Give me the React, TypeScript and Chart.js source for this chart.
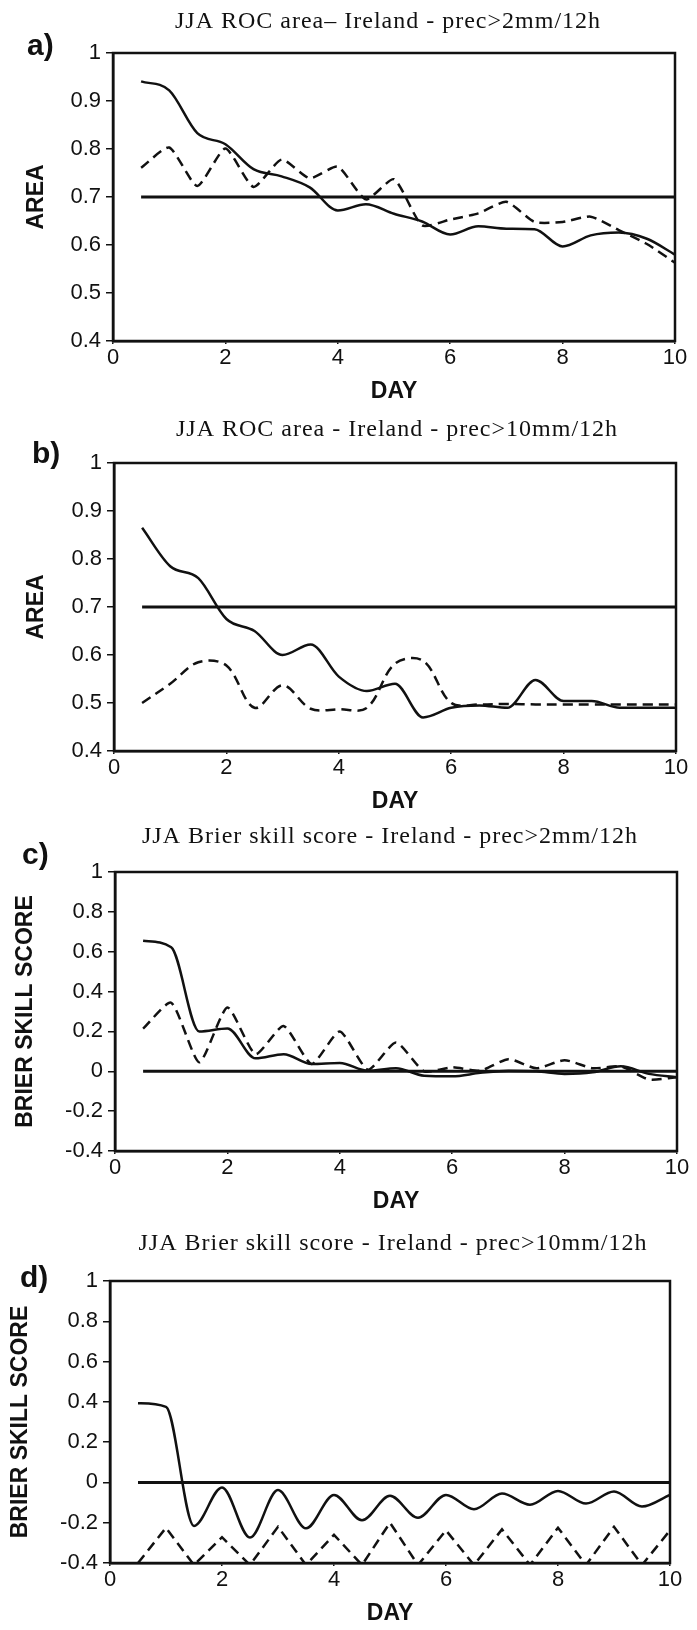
import React, { useEffect, useRef } from 'react';
import { Chart, registerables } from 'chart.js';

Chart.register(...registerables);

// ---------- data ----------
const days = [0.5, 1, 1.5, 2, 2.5, 3, 3.5, 4, 4.5, 5, 5.5, 6, 6.5, 7, 7.5, 8, 8.5, 9, 9.5, 10];
const xTicks = [0, 2, 4, 6, 8, 10];
const rocTicks = [0.4, 0.5, 0.6, 0.7, 0.8, 0.9, 1];
const bssTicks = [-0.4, -0.2, 0, 0.2, 0.4, 0.6, 0.8, 1];

const rocThreshold = 0.7;
const bssThreshold = 0;

const rocSolidA = [0.941, 0.922, 0.833, 0.81, 0.758, 0.743, 0.72, 0.672, 0.685, 0.665, 0.649, 0.622, 0.639, 0.634, 0.633, 0.597, 0.62, 0.626, 0.613, 0.58];
const rocDashedA = [0.761, 0.803, 0.723, 0.801, 0.721, 0.778, 0.739, 0.763, 0.695, 0.737, 0.641, 0.653, 0.666, 0.69, 0.648, 0.648, 0.659, 0.631, 0.602, 0.563];

const rocSolidB = [0.865, 0.785, 0.76, 0.675, 0.65, 0.6, 0.622, 0.555, 0.525, 0.54, 0.47, 0.49, 0.495, 0.49, 0.548, 0.504, 0.504, 0.49, 0.49, 0.49];
const rocDashedB = [0.5, 0.54, 0.585, 0.578, 0.49, 0.537, 0.488, 0.487, 0.49, 0.582, 0.588, 0.5, 0.497, 0.498, 0.497, 0.497, 0.497, 0.497, 0.497, 0.497];

const bssSolidC = [0.655, 0.622, 0.2, 0.215, 0.065, 0.086, 0.037, 0.042, 0.003, 0.015, -0.022, -0.025, -0.008, 0.003, 0, -0.013, -0.005, 0.025, -0.013, -0.03];
const bssDashedC = [0.214, 0.344, 0.045, 0.32, 0.086, 0.227, 0.037, 0.2, 0.008, 0.144, 0, 0.02, 0.003, 0.061, 0.015, 0.056, 0.015, 0.025, -0.041, -0.03];

const bssSolidD = [0.393, 0.375, -0.216, -0.025, -0.274, -0.038, -0.228, -0.062, -0.188, -0.066, -0.175, -0.062, -0.133, -0.055, -0.111, -0.042, -0.105, -0.045, -0.12, -0.062];
const bssDashedD = [-0.4, -0.225, -0.41, -0.272, -0.41, -0.22, -0.41, -0.26, -0.41, -0.2, -0.41, -0.238, -0.41, -0.233, -0.41, -0.225, -0.41, -0.22, -0.41, -0.238];

const titleA = 'JJA ROC area\u2013 Ireland - prec>2mm/12h';
const titleB = 'JJA ROC area - Ireland - prec>10mm/12h';
const titleC = 'JJA Brier skill score - Ireland - prec>2mm/12h';
const titleD = 'JJA Brier skill score - Ireland - prec>10mm/12h';

// ---------- layout (page coordinates) ----------
type Panel = {
  y0: number; h: number; L: number; R: number; T: number; B: number;
  title: string; titleX: number; titleY: number;
  letter: string; letterX: number; letterY: number;
  yTitle: string; yTitleX: number;
  yTicks: number[]; solid: number[]; dashed: number[]; threshold: number;
  solidTension: number; dashedTension: number; solidMono: boolean; dashedMono: boolean;
};

const INK = '#111';
const SANS = '"Liberation Sans", Arial, Helvetica, sans-serif';
const SERIF = '"Liberation Serif", "Times New Roman", Times, serif';

const panels: Panel[] = [
  { y0: 0, h: 420, L: 113, R: 675, T: 53, B: 341, title: titleA, titleX: 388, titleY: 28, letter: 'a)', letterX: 27, letterY: 55,
    yTitle: 'AREA', yTitleX: 37, yTicks: rocTicks, solid: rocSolidA, dashed: rocDashedA, threshold: rocThreshold,
    solidTension: 0, dashedTension: 0.2, solidMono: true, dashedMono: false },
  { y0: 405, h: 425, L: 114, R: 676, T: 463, B: 751, title: titleB, titleX: 397, titleY: 436, letter: 'b)', letterX: 32, letterY: 463,
    yTitle: 'AREA', yTitleX: 37, yTicks: rocTicks, solid: rocSolidB, dashed: rocDashedB, threshold: rocThreshold,
    solidTension: 0, dashedTension: 0.35, solidMono: true, dashedMono: false },
  { y0: 815, h: 425, L: 115, R: 677, T: 872, B: 1151, title: titleC, titleX: 390, titleY: 843, letter: 'c)', letterX: 22, letterY: 864,
    yTitle: 'BRIER SKILL SCORE', yTitleX: 26, yTicks: bssTicks, solid: bssSolidC, dashed: bssDashedC, threshold: bssThreshold,
    solidTension: 0, dashedTension: 0.2, solidMono: true, dashedMono: false },
  { y0: 1225, h: 405, L: 110, R: 670, T: 1281, B: 1563, title: titleD, titleX: 393, titleY: 1250, letter: 'd)', letterX: 20, letterY: 1287,
    yTitle: 'BRIER SKILL SCORE', yTitleX: 21, yTicks: bssTicks, solid: bssSolidD, dashed: bssDashedD, threshold: bssThreshold,
    solidTension: 0, dashedTension: 0, solidMono: true, dashedMono: false },
];

const X_AXIS_H = 40;

function PanelChart({ p }: { p: Panel }) {
  const ref = useRef<HTMLCanvasElement | null>(null);
  useEffect(() => {
    if (!ref.current) return;
    const decor = {
      id: 'decor',
      afterDraw(chart: any) {
        const { ctx, chartArea: a } = chart;
        ctx.save();
        ctx.strokeStyle = INK;
        ctx.lineWidth = 2.5;
        ctx.strokeRect(a.left, a.top, a.right - a.left, a.bottom - a.top);
        ctx.fillStyle = INK;
        // title
        ctx.font = `24px ${SERIF}`;
        (ctx as any).letterSpacing = '1px';
        ctx.textAlign = 'center';
        ctx.textBaseline = 'alphabetic';
        ctx.fillText(p.title, p.titleX, p.titleY - p.y0);
        (ctx as any).letterSpacing = '0px';
        // panel letter
        ctx.font = `bold 30px ${SANS}`;
        ctx.textAlign = 'left';
        ctx.fillText(p.letter, p.letterX, p.letterY - p.y0);
        // x title
        ctx.font = `bold 23px ${SANS}`;
        ctx.textAlign = 'center';
        ctx.textBaseline = 'middle';
        ctx.fillText('DAY', (a.left + a.right) / 2, a.bottom + 51);
        // y title
        ctx.translate(p.yTitleX, (a.top + a.bottom) / 2);
        ctx.rotate(-Math.PI / 2);
        ctx.fillText(p.yTitle, 0, 0);
        ctx.restore();
      },
    };

    const chart = new Chart(ref.current, {
      type: 'line',
      data: {
        datasets: [
          {
            label: 'threshold',
            data: [{ x: days[0], y: p.threshold }, { x: days[days.length - 1], y: p.threshold }],
            borderColor: INK, borderWidth: 3, pointRadius: 0, tension: 0,
          },
          {
            label: 'solid',
            data: days.map((d, i) => ({ x: d, y: p.solid[i] })),
            borderColor: INK, borderWidth: 2.5, pointRadius: 0,
            tension: p.solidTension,
            cubicInterpolationMode: p.solidMono ? 'monotone' : 'default',
          },
          {
            label: 'dashed',
            data: days.map((d, i) => ({ x: d, y: p.dashed[i] })),
            borderColor: INK, borderWidth: 2.5, pointRadius: 0, borderDash: [10, 6],
            tension: p.dashedTension,
            cubicInterpolationMode: p.dashedMono ? 'monotone' : 'default',
          },
        ],
      },
      options: {
        responsive: false,
        devicePixelRatio: 1,
        animation: false,
        events: [],
        layout: {
          padding: { left: 0, top: p.T - p.y0, right: 697 - p.R, bottom: p.h - (p.B - p.y0) - X_AXIS_H },
        },
        plugins: { legend: { display: false }, tooltip: { enabled: false }, title: { display: false } },
        scales: {
          x: {
            type: 'linear', min: 0, max: 10,
            afterBuildTicks: (s: any) => { s.ticks = xTicks.map((v) => ({ value: v })); },
            afterFit: (s: any) => { s.height = X_AXIS_H; },
            grid: { display: true, drawOnChartArea: false, drawTicks: true, tickLength: 3, color: INK, lineWidth: 1.5 },
            border: { display: true, color: INK, width: 2.5 },
            ticks: { color: INK, font: { family: SANS, size: 22 }, padding: 1, maxRotation: 0, autoSkip: false, callback: (v: any) => String(v) },
          },
          y: {
            type: 'linear', min: p.yTicks[0], max: p.yTicks[p.yTicks.length - 1],
            afterBuildTicks: (s: any) => { s.ticks = p.yTicks.map((v) => ({ value: v })); },
            afterFit: (s: any) => { s.width = p.L; },
            grid: { display: true, drawOnChartArea: false, drawTicks: true, tickLength: 7, color: INK, lineWidth: 1.5 },
            border: { display: true, color: INK, width: 2.5 },
            ticks: { color: INK, font: { family: SANS, size: 22 }, padding: 5, autoSkip: false, callback: (v: any) => String(v) },
          },
        },
      },
      plugins: [decor],
    } as any);
    return () => chart.destroy();
  }, [p]);
  return (
    <canvas
      ref={ref}
      width={697}
      height={p.h}
      style={{ position: 'absolute', left: 0, top: p.y0, width: 697, height: p.h }}
    />
  );
}

export default function App() {
  return (
    <div style={{ position: 'absolute', left: 0, top: 0, width: 697, height: 1630, background: '#fff', overflow: 'hidden' }}>
      {panels.map((p, i) => (
        <PanelChart key={i} p={p} />
      ))}
    </div>
  );
}
